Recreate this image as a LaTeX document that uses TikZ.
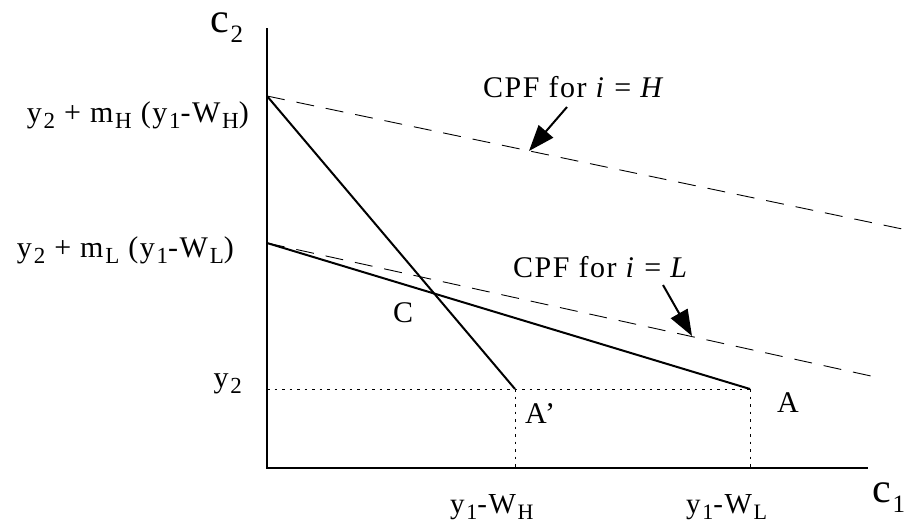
\documentclass[tikz,border=0pt]{standalone}
\usepackage{fontspec}
\setmainfont{Liberation Serif}[LetterSpace=5]
\usetikzlibrary{arrows.meta}
\newcommand\lowsub[1]{\kern0.06em\raisebox{-0.22em}{\fontsize{23}{24}\selectfont #1}}
\newcommand\smallsub[1]{\kern0.06em\raisebox{-0.22em}{\fontsize{22}{23}\selectfont #1}}
\newcommand\bigsub[1]{\kern0.04em\raisebox{-0.25em}{\fontsize{25}{26}\selectfont #1}}
\begin{document}
\begin{tikzpicture}[x=1pt,y=-1pt, font=\fontsize{30}{32}\selectfont,
  axisline/.style={line width=2.6pt},
  budget/.style={line width=2pt},
  cpf/.style={line width=0.9pt, dash pattern=on 18pt off 12pt},
  guide/.style={line width=1pt, dash pattern=on 2.5pt off 5pt},
  pointer/.style={line width=2pt, -{Triangle[length=26pt,width=19pt]}},
  lbl/.style={inner sep=0pt},
  xlbl/.style={inner sep=0pt, font=\fontsize{29}{31}\selectfont},
  axlbl/.style={inner sep=0pt, font=\fontsize{42}{44}\selectfont}]
\useasboundingbox (0,0) rectangle (914,531);
\coordinate (O) at (267,468);
\coordinate (Ytop) at (267,28);
\coordinate (Xend) at (868,468);
\coordinate (H0) at (267,96);
\coordinate (L0) at (267,243);
\coordinate (Ap) at (515,389);
\coordinate (A) at (750,389);
\coordinate (Y2) at (267,389);
\coordinate (ApB) at (515,468);
\coordinate (AB) at (750,468);
\coordinate (Hend) at (907,230);
\coordinate (Lend) at (880,378);
\coordinate (HarT) at (567,107);
\coordinate (HarH) at (529,151);
\coordinate (LarT) at (663,285);
\coordinate (LarH) at (692,336);
% guides
\draw[guide] (Y2) -- (A);
\draw[guide] (Ap) -- (ApB);
\draw[guide] (A) -- (AB);
% CPF dashed
\draw[cpf] (H0) -- (Hend);
\draw[cpf] (L0) -- (Lend);
% budget lines
\draw[budget] (H0) -- (Ap);
\draw[budget] (L0) -- (A);
% axes
\draw[axisline] (Ytop) -- (O) -- (Xend);
% arrows
\draw[pointer] (HarT) -- (HarH);
\draw[pointer] (LarT) -- (LarH);
% labels
\node[axlbl, anchor=base west] (c2) at (210,32) {c\bigsub{2}};
\node[axlbl, anchor=base west] (c1) at (872,502) {c\bigsub{1}};
\node[lbl, anchor=base east] (lh) at (249,122) {y\lowsub{2} + m\lowsub{H} (y\lowsub{1}-W\lowsub{H})};
\node[lbl, anchor=base east] (ll) at (234,257) {y\lowsub{2} + m\lowsub{L} (y\lowsub{1}-W\lowsub{L})};
\node[lbl, anchor=base east] (ly) at (242,387) {y\lowsub{2}};
\node[lbl, anchor=base west] (cpfh) at (483,97) {CPF for \textit{i} = \textit{H}};
\node[lbl, anchor=base west] (cpfl) at (513,277) {CPF for \textit{i} = \textit{L}};
\node[lbl, anchor=base west] (lc) at (393,322) {C};
\node[lbl, anchor=base west] (lap) at (525,423) {A’};
\node[lbl, anchor=base west] (la) at (777,412) {A};
\node[xlbl, anchor=base west] (lwh) at (450,513) {y\smallsub{1}-W\smallsub{H}};
\node[xlbl, anchor=base west] (lwl) at (686,513) {y\smallsub{1}-W\smallsub{L}};
\end{tikzpicture}
\end{document}
